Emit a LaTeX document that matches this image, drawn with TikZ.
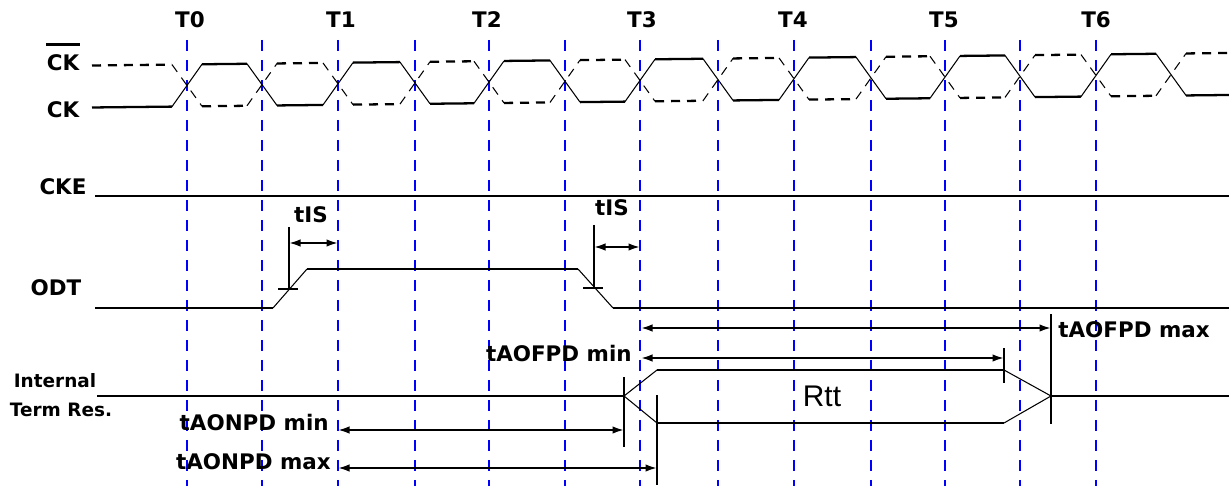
\documentclass[tikz,border=0pt]{standalone}
\usepackage{fontspec}
\setmainfont{DejaVu Sans}
\newfontfamily\rttfont{Liberation Sans}
\usetikzlibrary{arrows.meta}
\definecolor{GridBlue}{RGB}{0,0,255}

\begin{document}
\begin{tikzpicture}[x=0.02cm, y=-0.02cm, every node/.style={font=\fontsize{12.2}{14}\selectfont\bfseries, inner sep=0pt}]
  \tikzset{
    wire/.style={line width=1.3pt},
    ramp/.style={line width=0.6pt},
    limit/.style={line width=1.3pt},
    gridline/.style={GridBlue, line width=1.3pt, dash pattern=on 0.22cm off 0.18cm},
    clkn/.style={dash pattern=on 0.18cm off 0.14cm},
    dimarrow/.style={{Latex[length=0.23cm,width=0.15cm]}-{Latex[length=0.23cm,width=0.15cm]}, line width=1.1pt}
  }
  \useasboundingbox (0,0) rectangle (1229,489);

  % clock edges
  \foreach \x in {187,262,338,415,489,565,640,718,794,871,945,1020,1096}
    \draw[gridline] (\x,40) -- (\x,486);
  \foreach \t/\x in {0/190,1/341,2/487,3/642,4/793,5/944,6/1096}
    \node (t\t) at (\x,20) {T\t};

  % signal names
  \node (cknlbl) at (63,63) {CK};
  \draw[line width=1.4pt] ([yshift=0.2cm]cknlbl.north west) -- ([yshift=0.2cm]cknlbl.north east);
  \node (cklbl) at (63,110) {CK};
  \node (ckelbl) at (63,187) {CKE};
  \node (odtlbl) at (56,288) {ODT};
  \node[font=\fontsize{10.5}{12}\selectfont\bfseries] (intlbl) at (55,381) {Internal};
  \node[font=\fontsize{10.5}{12}\selectfont\bfseries] (reslbl) at (61,410) {Term Res.};

  % CK / CK#
  \begin{scope}[yslant=0.011]
    \draw[wire] (92,108.5) -- (172,108.5);
    \draw[wire, clkn] (92,66.5) -- (172,66.5);
    \foreach \xa/\xb [count=\k] in {187/262,262/338,338/415,415/489,489/565,565/640,640/718,718/794,794/871,871/945,945/1020,1020/1096,1096/1171,1171/1244}{
      \pgfmathsetmacro{\ya}{isodd(\k) ? 108.5 : 66.5}
      \pgfmathsetmacro{\yb}{isodd(\k) ? 66.5 : 108.5}
      \draw[ramp] (\xa-15,\ya) -- (\xa+15,\yb);
      \draw[ramp, clkn] (\xa-15,\yb) -- (\xa+15,\ya);
      \draw[wire] (\xa+15,\yb) -- (\xb-15,\yb);
      \draw[wire, clkn] (\xa+15,\ya) -- (\xb-15,\ya);
    }
  \end{scope}

  % CKE
  \draw[wire] (95,196) -- (1229,196);

  % ODT
  \draw[wire] (95,308) -- (273,308);
  \draw[ramp] (273,308) -- (307,269);
  \draw[wire] (307,269) -- (578,269);
  \draw[ramp] (578,269) -- (613,308);
  \draw[wire] (613,308) -- (1229,308);
  \draw[limit] (289,227) -- (289,290);
  \draw[limit] (278,289) -- (298,289);
  \draw[limit] (594,225) -- (594,288);
  \draw[limit] (583,288) -- (603,288);
  \coordinate (isa) at (289,243);
  \coordinate (isb) at (338,243);
  \coordinate (isc) at (594,247);
  \coordinate (isd) at (640,247);
  \draw[dimarrow] (isa) -- (isb);
  \draw[dimarrow] (isc) -- (isd);
  \node (tisa) at (311,215) {tIS};
  \node (tisb) at (612,208) {tIS};

  % internal termination
  \draw[wire] (97,396) -- (624,396);
  \draw[ramp] (624,396) -- (657,370);
  \draw[ramp] (624,396) -- (657,423);
  \draw[wire] (657,370) -- (1004,370);
  \draw[wire] (657,423) -- (1004,423);
  \draw[ramp] (1004,370) -- (1051,396);
  \draw[ramp] (1004,423) -- (1051,396);
  \draw[wire] (1051,396) -- (1229,396);
  \node[font=\fontsize{17}{20}\selectfont\rttfont] (rtt) at (822,396) {Rtt};
  \draw[limit] (624,377) -- (624,447);
  \draw[limit] (657,395) -- (657,485);
  \draw[limit] (1004,348) -- (1004,383);
  \draw[limit] (1051,314) -- (1051,424);

  % timing spans
  \coordinate (ofmaxa) at (641,328);
  \coordinate (ofmaxb) at (1051,328);
  \coordinate (ofmina) at (641,358);
  \coordinate (ofminb) at (1004,358);
  \coordinate (onmina) at (338,430);
  \coordinate (onminb) at (624,430);
  \coordinate (onmaxa) at (338,468);
  \coordinate (onmaxb) at (657,468);
  \draw[dimarrow] (ofmaxa) -- (ofmaxb);
  \draw[dimarrow] (ofmina) -- (ofminb);
  \draw[dimarrow] (onmina) -- (onminb);
  \draw[dimarrow] (onmaxa) -- (onmaxb);
  \node[anchor=west] (ofmaxlbl) at (1058,330) {tAOFPD max};
  \node[anchor=east] (ofminlbl) at (632,354) {tAOFPD min};
  \node[anchor=east] (onminlbl) at (329,423) {tAONPD min};
  \node[anchor=east] (onmaxlbl) at (331,462) {tAONPD max};
\end{tikzpicture}
\end{document}
